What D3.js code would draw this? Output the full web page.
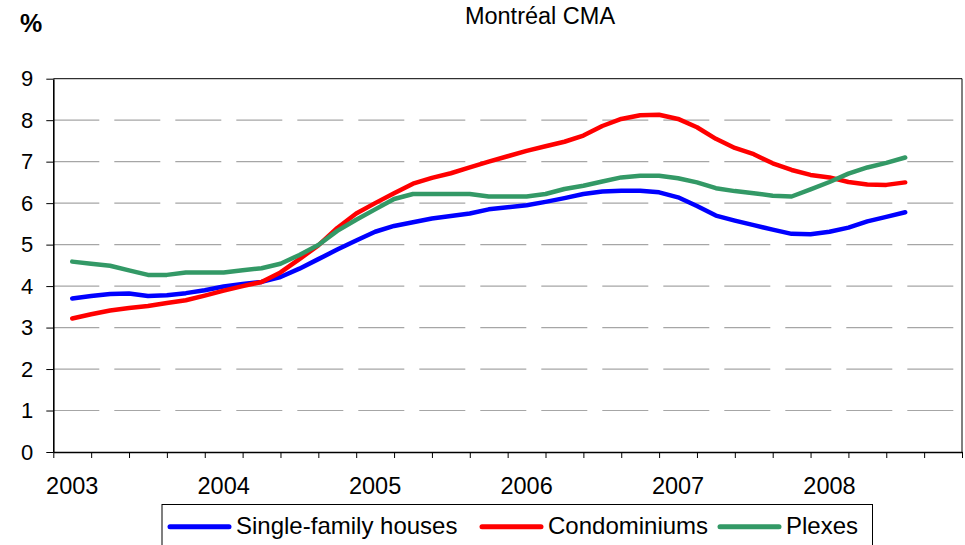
<!DOCTYPE html>
<html>
<head>
<meta charset="utf-8">
<script src="https://cdn.jsdelivr.net/npm/d3@7"></script>
<style>
  body { margin: 0; background: #fff; }
  svg { display: block; font-family: "Liberation Sans", Arial, sans-serif; }
</style>
</head>
<body>
<svg id="chart" width="965" height="545"></svg>
<script>
// year labels on the category axis
const years = ['2003', '2004', '2005', '2006', '2007', '2008']
const yTicks = [0, 1, 2, 3, 4, 5, 6, 7, 8, 9]

// one reading every half quarter, 2003 Q1 .. 2008 Q3
const singleFamily = [3.70, 3.76, 3.81, 3.82, 3.76, 3.78, 3.83, 3.90, 3.99, 4.05,
  4.10, 4.22, 4.42, 4.65, 4.88, 5.10, 5.31, 5.45, 5.54, 5.63,
  5.69, 5.75, 5.85, 5.90, 5.95, 6.03, 6.12, 6.22, 6.28, 6.30,
  6.30, 6.26, 6.14, 5.93, 5.70, 5.58, 5.47, 5.36, 5.26, 5.25,
  5.31, 5.41, 5.56, 5.67, 5.78]
const condos = [3.22, 3.32, 3.41, 3.47, 3.52, 3.59, 3.66, 3.77, 3.89, 4.00,
  4.10, 4.33, 4.65, 4.98, 5.40, 5.75, 6.00, 6.24, 6.47, 6.61,
  6.72, 6.86, 7.00, 7.13, 7.26, 7.37, 7.48, 7.63, 7.86, 8.03,
  8.12, 8.13, 8.03, 7.83, 7.55, 7.33, 7.18, 6.96, 6.80, 6.68,
  6.62, 6.51, 6.45, 6.44, 6.50]
const plexes = [4.59, 4.54, 4.49, 4.38, 4.27, 4.27, 4.33, 4.33, 4.33, 4.38,
  4.43, 4.54, 4.75, 4.99, 5.33, 5.60, 5.85, 6.10, 6.22, 6.22,
  6.22, 6.22, 6.16, 6.16, 6.16, 6.22, 6.34, 6.42, 6.52, 6.62,
  6.66, 6.66, 6.60, 6.50, 6.36, 6.29, 6.24, 6.18, 6.16, 6.33,
  6.51, 6.71, 6.86, 6.97, 7.10]

const seriesNames = ['Single-family houses', 'Condominiums', 'Plexes']
const seriesColors = ['#0000ff', '#ff0000', '#339966']
const seriesValues = [singleFamily, condos, plexes]

let dimensions = {
  width: 965,
  height: 545,
  margin: { top: 78.7, bottom: 93, right: 3, left: 53.3 }
}

let svg = d3.select('#chart')

// 24 quarters, each split in two halves
let xScale = d3.scaleLinear()
  .domain([0, 48])
  .range([dimensions.margin.left, dimensions.width - dimensions.margin.right])

let yScale = d3.scaleLinear()
  .domain([0, 9])
  .range([dimensions.height - dimensions.margin.bottom, dimensions.margin.top])

let x0 = xScale(0), x1 = xScale(48)
let y0 = yScale(0), y9 = yScale(9)

// dashed gridlines
svg.append('g')
  .selectAll('line')
  .data(yTicks.filter(d => d > 0 && d < 9))
  .enter()
  .append('line')
  .attr('x1', x0)
  .attr('x2', x1)
  .attr('y1', d => yScale(d))
  .attr('y2', d => yScale(d))
  .attr('stroke', '#a6a6a6')
  .attr('stroke-width', 1.2)
  .attr('stroke-dasharray', '46,15')

// plot frame (top + right)
svg.append('path')
  .attr('d', `M${x0},${y9}H${x1}V${y0}`)
  .attr('fill', 'none')
  .attr('stroke', '#000')
  .attr('stroke-width', 1)

// y axis
let yAxisgen = d3.axisLeft(yScale).tickValues(yTicks).tickSize(7).tickSizeOuter(0)
let yAxis = svg.append('g')
  .attr('transform', `translate(${x0},0)`)
  .call(yAxisgen)
yAxis.select('.domain').attr('stroke-width', 1.6)
yAxis.selectAll('text')
  .attr('x', -20)
  .style('font-size', '22px')
  .style('font-family', '"Liberation Sans", Arial, sans-serif')
  .attr('fill', '#000')

// x axis: ticks between quarters, labels on first quarter of each year
let xAxisgen = d3.axisBottom(xScale)
  .tickValues(d3.range(0, 49, 2))
  .tickSize(6)
  .tickSizeOuter(0)
  .tickFormat('')
let xAxis = svg.append('g')
  .attr('transform', `translate(0,${y0})`)
  .call(xAxisgen)
xAxis.select('.domain').attr('stroke-width', 1.3)

svg.append('g')
  .selectAll('text')
  .data(years)
  .enter()
  .append('text')
  .attr('x', (d, i) => xScale(1 + i * 8))
  .attr('y', 494)
  .attr('text-anchor', 'middle')
  .style('font-size', '23.5px')
  .attr('fill', '#000')
  .text(d => d)

// lines
let lineGen = d3.line()
  .x((d, i) => xScale(i + 1))
  .y(d => yScale(d))

svg.append('g')
  .selectAll('path')
  .data(seriesValues)
  .enter()
  .append('path')
  .attr('d', d => lineGen(d))
  .attr('fill', 'none')
  .attr('stroke', (d, i) => seriesColors[i])
  .attr('stroke-width', 4.5)
  .attr('stroke-linejoin', 'round')
  .attr('stroke-linecap', 'round')

// title and unit
svg.append('text')
  .attr('x', 540)
  .attr('y', 24)
  .attr('text-anchor', 'middle')
  .style('font-size', '23.5px')
  .text('Montréal CMA')

svg.append('text')
  .attr('x', 20)
  .attr('y', 32)
  .style('font-size', '25px')
  .style('font-weight', 'bold')
  .text('%')

// legend
let legend = svg.append('g')
legend.append('rect')
  .attr('x', 162)
  .attr('y', 504.5)
  .attr('width', 710.5)
  .attr('height', 60)
  .attr('fill', '#fff')
  .attr('stroke', '#000')
  .attr('stroke-width', 1)

let legendX = [170, 482, 720]
seriesNames.forEach((name, i) => {
  legend.append('line')
    .attr('x1', legendX[i])
    .attr('x2', legendX[i] + 59)
    .attr('y1', 526.7)
    .attr('y2', 526.7)
    .attr('stroke', seriesColors[i])
    .attr('stroke-width', 5)
    .attr('stroke-linecap', 'round')
  legend.append('text')
    .attr('x', legendX[i] + 66)
    .attr('y', 534)
    .style('font-size', '24px')
    .attr('fill', '#000')
    .text(name)
})
</script>
</body>
</html>
